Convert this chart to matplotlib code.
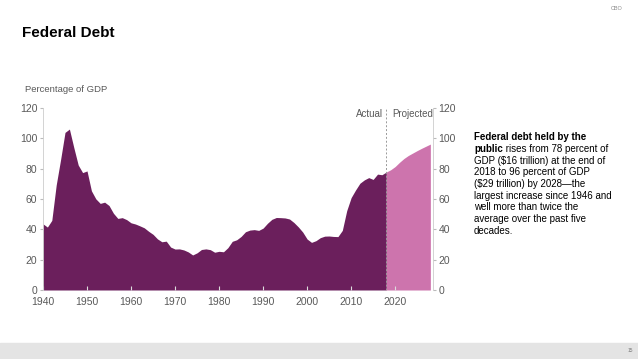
import matplotlib
matplotlib.use("Agg")
import matplotlib.pyplot as plt
import matplotlib.patches as mpatches

# debt held by the public, percent of GDP (actual)
years_actual = list(range(1940, 2019))
debt_actual = [43.6, 41.5, 45.9, 69.2, 86.0, 103.9, 106.1, 93.9, 82.4, 77.4,
               78.5, 65.4, 60.1, 57.1, 57.9, 55.7, 50.6, 47.2, 47.7, 46.4,
               44.3, 43.5, 42.3, 41.0, 38.7, 36.7, 33.7, 31.8, 32.2, 28.3,
               27.0, 27.1, 26.4, 25.1, 23.1, 24.5, 26.7, 27.1, 26.6, 24.9,
               25.5, 25.2, 27.9, 32.1, 33.1, 35.3, 38.4, 39.5, 39.8, 39.3,
               40.8, 44.0, 46.6, 47.8, 47.7, 47.5, 46.8, 44.5, 41.6, 38.2,
               33.6, 31.4, 32.5, 34.5, 35.5, 35.6, 35.3, 35.2, 39.3, 52.3,
               60.9, 65.9, 70.4, 72.6, 74.1, 72.9, 76.4, 76.0, 77.8]

# CBO projection
years_proj = list(range(2018, 2029))
debt_proj = [77.8, 79.3, 81.4, 84.2, 86.7, 88.7, 90.3, 91.9, 93.4, 94.8, 96.2]

yticks = [0, 20, 40, 60, 80, 100, 120]
xticks = [1940, 1950, 1960, 1970, 1980, 1990, 2000, 2010, 2020]

note_lines = ["GDP ($16 trillion) at the end of",
              "2018 to 96 percent of GDP",
              "($29 trillion) by 2028\u2014the",
              "largest increase since 1946 and",
              "well more than twice the",
              "average over the past five",
              "decades."]

dark = "#6b1f5c"
light = "#cd74ad"
grey = "#595959"

plt.rcParams['font.family'] = ['Liberation Sans', 'DejaVu Sans']

fig = plt.figure(figsize=(6.38, 3.59), dpi=100)
ax = fig.add_axes([43/638, 69/359, 390/638, 182/359])

ax.fill_between(years_actual, debt_actual, 0, color=dark, lw=0)
ax.fill_between(years_proj, debt_proj, 0, color=light, lw=0)
ax.axvline(2018, color="#999999", lw=0.7, ls=(0, (2, 2)))

ax.set_xlim(1940, 2028.6)
ax.set_ylim(0, 120)
ax.set_xticks(xticks)
ax.set_yticks(yticks)
ax.tick_params(axis='x', direction='in', length=3, color="#dddddd",
               labelsize=7.5, labelcolor=grey, pad=5)
ax.tick_params(axis='y', direction='out', length=2, color="#bbbbbb",
               labelsize=7.5, labelcolor=grey, left=True, right=True,
               labelleft=True, labelright=True, pad=2)
for s in ['top', 'bottom']:
    ax.spines[s].set_visible(False)
for s in ['left', 'right']:
    ax.spines[s].set_color("#cccccc")
    ax.spines[s].set_linewidth(0.6)

ax.text(-18/390, 1.075, "Percentage of GDP", transform=ax.transAxes, fontsize=6.8,
        color=grey, ha='left', va='bottom')
ax.text(2017.3, 116, "Actual", fontsize=7, color=grey, ha='right', va='center')
ax.text(2019.3, 116, "Projected", fontsize=7, color=grey, ha='left', va='center')

# title and header
fig.text(22/638, 1 - 33/359, "Federal Debt", fontsize=11, fontweight='bold',
         va='center', ha='left')
fig.text(617/638, 1 - 8/359, "CBO", fontsize=4, color="#888888", ha='center', va='center')

# footer band
fig.patches.append(mpatches.Rectangle((0, 0), 1, 16/359, transform=fig.transFigure,
                                      color="#e4e4e4", zorder=0))
fig.text(630/638, 8/359, "15", fontsize=3.5, color="#777777", ha='center', va='center')

# side note
x0 = 474/638
lh = 11.75/359
y0 = 1 - 137/359
fig.text(x0, y0, "Federal debt held by the", fontsize=7, fontweight='bold', va='center')
t = fig.text(x0, y0 - lh, "public", fontsize=7, fontweight='bold', va='center')
for i, line in enumerate(note_lines):
    fig.text(x0, y0 - (i + 2) * lh, line, fontsize=7, va='center')

# regular part goes right after the bold word
fig.canvas.draw()
bb = t.get_window_extent()
fig.text(bb.x1 / fig.bbox.width, y0 - lh, " rises from 78 percent of", fontsize=7, va='center')

fig.savefig("out.png", dpi=100)
